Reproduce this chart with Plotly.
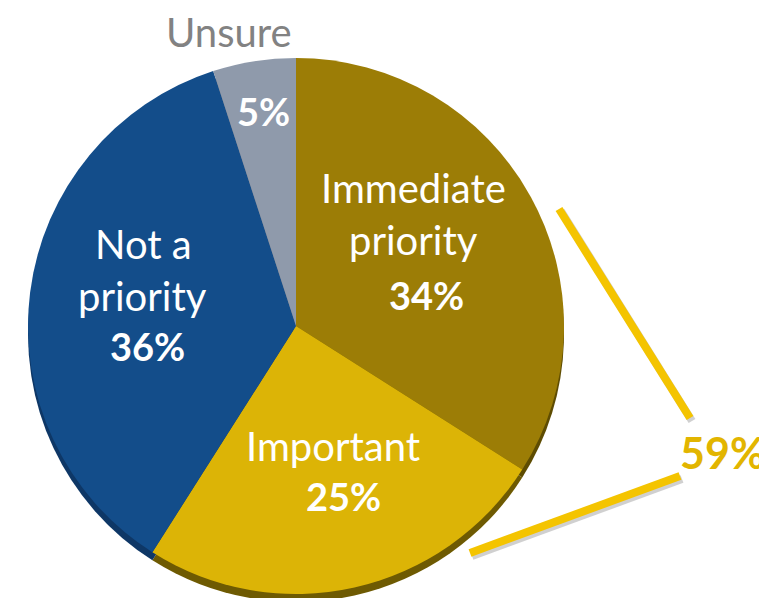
import plotly.graph_objects as go

W, H = 767, 598

categories = ["Immediate priority", "Important", "Not a priority", "Unsure"]
values = [34, 25, 36, 5]
face_colors = ["#9c7d06", "#dcb406", "#134d8a", "#8f9aab"]
side_colors = ["#5e4c02", "#6e5a02", "#0e3766", "#5f6878"]
combined_label = "59%"

def px(x):
    return x / W

def py(y):
    return 1 - y / H

cx, cy, r = 288, 318, 268
depth = 8

fig = go.Figure()
# 3D side (darker copy shifted down)
fig.add_trace(go.Pie(
    labels=categories, values=values, sort=False, direction="clockwise", rotation=0,
    marker=dict(colors=side_colors, line=dict(width=0)), textinfo="none",
    hoverinfo="skip", showlegend=False,
    domain=dict(x=[px(cx - r), px(cx + r)], y=[py(cy + depth + r), py(cy + depth - r)]),
))
fig.add_trace(go.Pie(
    labels=categories, values=values, sort=False, direction="clockwise", rotation=0,
    marker=dict(colors=face_colors, line=dict(width=0)), textinfo="none",
    showlegend=False,
    domain=dict(x=[px(cx - r), px(cx + r)], y=[py(cy + r), py(cy - r)]),
))

FONT = "Lato"
ann = []
def add(text, x, y, size=40, color="white", bold=False, xanchor="center"):
    t = f"<b>{text}</b>" if bold else text
    ann.append(dict(text=t, x=px(x), y=py(y), xref="paper", yref="paper",
                    xanchor=xanchor, yanchor="middle", showarrow=False,
                    font=dict(family=FONT, size=size, color=color)))

add("Unsure", 221, 24, color="#828282")
add(f"{values[3]}%", 255, 103, size=38, bold=True)
add("Immediate", 406, 180)
add("priority", 406, 232)
add(f"{values[0]}%", 418, 287, size=38, bold=True)
add("Not a", 135, 236)
add("priority", 134, 288)
add(f"{values[2]}%", 139, 338, size=38, bold=True)
add("Important", 325, 438)
add(f"{values[1]}%", 335, 488, size=38, bold=True)
add(combined_label, 714, 445, size=43, color="#e2b500", bold=True)

shapes = [
    dict(type="line", xref="paper", yref="paper", x0=px(553), y0=py(203), x1=px(684), y1=py(413),
         line=dict(color="rgba(120,120,120,0.35)", width=8)),
    dict(type="line", xref="paper", yref="paper", x0=px(464), y0=py(548), x1=px(674), y1=py(471),
         line=dict(color="rgba(120,120,120,0.35)", width=8)),
    dict(type="line", xref="paper", yref="paper", x0=px(551), y0=py(201), x1=px(682), y1=py(410),
         line=dict(color="#f4c400", width=8)),
    dict(type="line", xref="paper", yref="paper", x0=px(462), y0=py(545), x1=px(672), y1=py(468),
         line=dict(color="#f4c400", width=8)),
]

fig.update_layout(
    width=W, height=H, margin=dict(l=0, r=0, t=0, b=0),
    paper_bgcolor="white", plot_bgcolor="white",
    annotations=ann, shapes=shapes, showlegend=False,
)

fig.write_html("out.html")
